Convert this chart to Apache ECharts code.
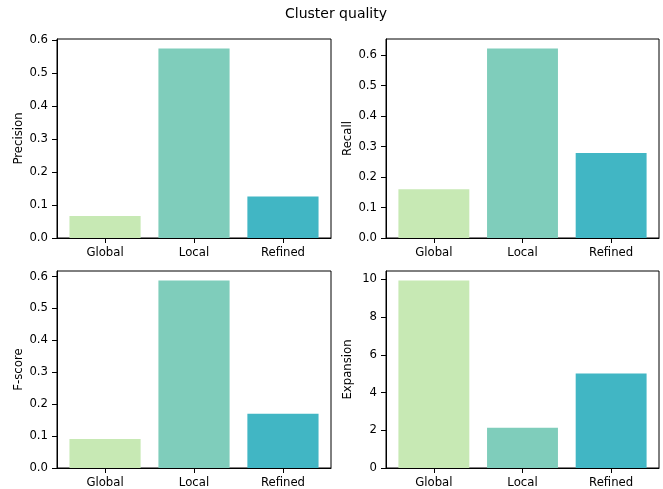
<!DOCTYPE html>
<html>
<head>
<meta charset="utf-8">
<script src="https://cdn.jsdelivr.net/npm/echarts@6/dist/echarts.min.js"></script>
<style>
  html, body { margin: 0; padding: 0; background: #fff; }
  #chart { width: 663px; height: 489px; }
</style>
</head>
<body>
<div id="chart"></div>
<script>
// Methods compared in every panel
const categories = ['Global', 'Local', 'Refined'];
const barColors = ['#c7e9b4', '#7fcdbb', '#41b6c4'];

// Metric values per method
const precision = [0.067, 0.575, 0.126];
const recall = [0.160, 0.622, 0.279];
const fscore = [0.091, 0.588, 0.170];
const expansion = [9.95, 2.13, 5.01];

// Y tick labels per panel
const scoreTicks = [0, 0.1, 0.2, 0.3, 0.4, 0.5, 0.6];
const expansionTicks = [0, 2, 4, 6, 8, 10];

const FONT = 'DejaVu Sans';
const FS = 11.7;

const panels = [
  { name: 'Precision', values: precision, ticks: scoreTicks, fmt: v => v.toFixed(1),
    grid: { left: 57, top: 39, width: 274, height: 199 } },
  { name: 'Recall', values: recall, ticks: scoreTicks, fmt: v => v.toFixed(1),
    grid: { left: 386, top: 39, width: 273, height: 199 } },
  { name: 'F-score', values: fscore, ticks: scoreTicks, fmt: v => v.toFixed(1),
    grid: { left: 57, top: 271, width: 274, height: 198 } },
  { name: 'Expansion', values: expansion, ticks: expansionTicks, fmt: v => String(Math.round(v)),
    grid: { left: 386, top: 271, width: 273, height: 198 } }
];

const grids = [], xAxes = [], yAxes = [], series = [];
const catIdx = categories.map((_, i) => i);

panels.forEach((p, i) => {
  grids.push(Object.assign({
    show: true, borderColor: '#000', borderWidth: 1, backgroundColor: 'transparent'
  }, p.grid));

  // Bars centred on integer positions, with a 5% margin beyond the bar edges
  xAxes.push({
    gridIndex: i, type: 'value', min: -0.54, max: 2.54, position: 'bottom',
    axisLine: { show: true, onZero: false, lineStyle: { color: '#000', width: 1 } },
    splitLine: { show: false },
    axisTick: { show: true, inside: false, customValues: catIdx, length: 5, lineStyle: { color: '#000', width: 1 } },
    axisLabel: {
      customValues: catIdx, margin: 9, color: '#000',
      fontFamily: FONT, fontSize: FS,
      formatter: v => categories[Math.round(v)]
    }
  });

  yAxes.push({
    gridIndex: i, type: 'value', min: 0, position: 'left',
    max: Math.max(...p.values) * 1.05,
    name: p.name, nameLocation: 'middle', nameGap: 32, nameRotate: 90,
    nameTextStyle: { fontFamily: FONT, fontSize: FS, color: '#000' },
    axisLine: { show: true, onZero: false, lineStyle: { color: '#000', width: 1 } },
    splitLine: { show: false },
    axisTick: { show: true, inside: false, customValues: p.ticks, length: 5, lineStyle: { color: '#000', width: 1 } },
    axisLabel: {
      customValues: p.ticks, margin: 9, color: '#000',
      fontFamily: FONT, fontSize: FS,
      formatter: p.fmt
    }
  });

  series.push({
    type: 'bar', xAxisIndex: i, yAxisIndex: i,
    barWidth: '80%',
    silent: true,
    data: p.values.map((v, k) => ({ value: [k, v], itemStyle: { color: barColors[k] } }))
  });
});

const chart = echarts.init(document.getElementById('chart'), null, { renderer: 'canvas' });
chart.setOption({
  animation: false,
  backgroundColor: '#fff',
  graphic: [{
    type: 'text', x: 336, y: 14,
    style: {
      text: 'Cluster quality', fill: '#000', font: '14px "DejaVu Sans"',
      textAlign: 'center', textVerticalAlign: 'middle'
    }
  }],
  grid: grids,
  xAxis: xAxes,
  yAxis: yAxes,
  series: series
});
</script>
</body>
</html>
